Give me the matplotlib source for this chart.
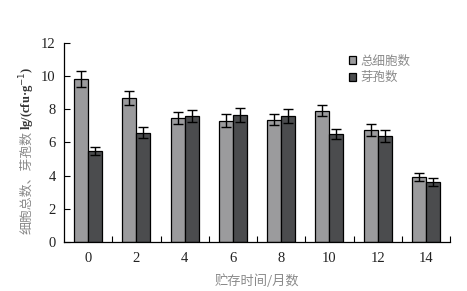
import numpy as np
import matplotlib
matplotlib.use("Agg")
import matplotlib.pyplot as plt
from matplotlib.ticker import FixedLocator

# storage time (months)
months = ["0", "2", "4", "6", "8", "10", "12", "14"]
total_cells = [9.82, 8.68, 7.48, 7.30, 7.38, 7.92, 6.76, 3.94]
total_err = [0.46, 0.42, 0.36, 0.40, 0.34, 0.35, 0.36, 0.24]
spores = [5.48, 6.58, 7.60, 7.66, 7.60, 6.52, 6.40, 3.64]
spores_err = [0.26, 0.34, 0.36, 0.42, 0.42, 0.30, 0.36, 0.24]
series_names = ["总细胞数", "芽孢数"]

cjk = ['Noto Sans CJK SC', 'DejaVu Sans']
plt.rcParams['font.family'] = ['Liberation Serif', 'Noto Sans CJK SC', 'DejaVu Sans']

fig = plt.figure(figsize=(4.67, 2.91), dpi=100)
ax = fig.add_axes([0.137, 0.168, 0.827, 0.685])

x = np.arange(len(months))
w = 0.29
ekw = dict(elinewidth=1.0, capthick=1.0, ecolor='black')
ax.bar(x - w / 2, total_cells, w, yerr=total_err, capsize=3.6, color='#9b9b9d',
       edgecolor='black', linewidth=0.9, error_kw=ekw, label=series_names[0])
ax.bar(x + w / 2, spores, w, yerr=spores_err, capsize=3.6, color='#4b4c4e',
       edgecolor='black', linewidth=0.9, error_kw=ekw, label=series_names[1])

ax.set_xlim(-0.5, len(months) - 0.5)
ax.set_ylim(0, 12)
ax.set_yticks(range(0, 13, 2))
ax.set_xticks(x)
ax.set_xticklabels(months)
ax.xaxis.set_minor_locator(FixedLocator(np.arange(0.5, len(months), 1)))
ax.tick_params(axis='x', which='major', length=0, pad=7, labelsize=10.5, labelcolor='#222222')
ax.tick_params(axis='x', which='minor', direction='in', length=4, width=0.8)
ax.tick_params(axis='y', direction='in', length=4, width=0.8, pad=6,
               labelsize=10.5, labelcolor='#222222')

for s in ['top', 'right']:
    ax.spines[s].set_visible(False)
for s in ['left', 'bottom']:
    ax.spines[s].set_linewidth(0.9)

ax.set_xlabel("贮存时间/月数", family=cjk, fontsize=9.5, color='#8a8a8a', labelpad=7)

# y label: grey Chinese part followed by dark latin unit part
ylab1 = fig.text(27 / 467, 1 - 234 / 291, "细胞总数、芽孢数", family=cjk, fontsize=9.3,
                 color='#8a8a8a', rotation=90, rotation_mode='anchor', ha='left', va='center')
fig.canvas.draw()
bb = ylab1.get_window_extent(fig.canvas.get_renderer())
fig.text(27 / 467, (bb.y1 + 1) / fig.bbox.height, "lg/(cfu·g$^{-1}$)", fontsize=9,
         color='#333333', weight='bold', rotation=90, rotation_mode='anchor',
         ha='left', va='center')

leg = ax.legend(loc='upper left', bbox_to_anchor=(0.715, 0.985), frameon=False,
                handlelength=0.6, handleheight=0.6, handletextpad=0.35,
                labelspacing=0.3, borderaxespad=0.3, prop={'family': cjk, 'size': 9})
for t in leg.get_texts():
    t.set_color('#8a8a8a')

fig.savefig("out.png", dpi=100)
